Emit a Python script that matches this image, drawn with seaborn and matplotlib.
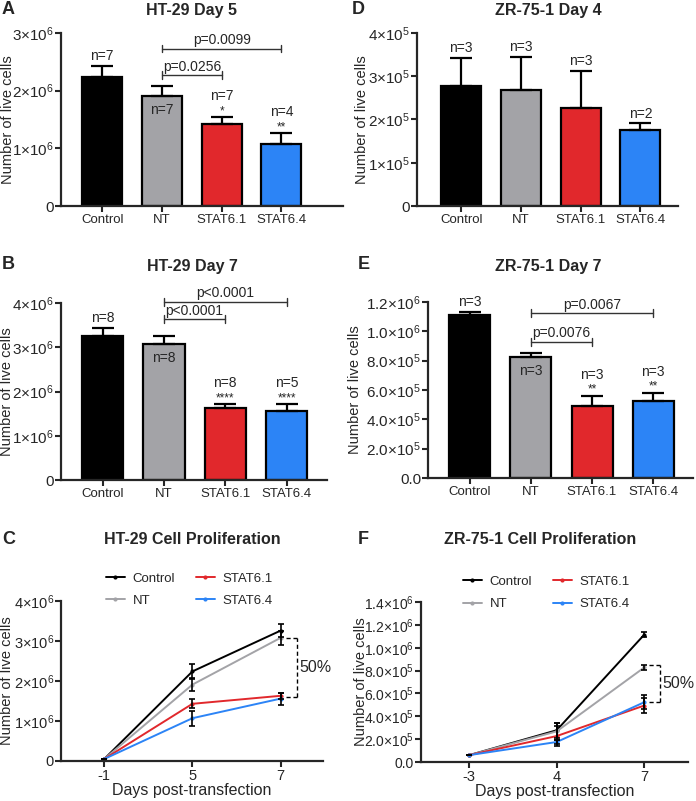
import numpy as np
import pandas as pd
import matplotlib
matplotlib.use("Agg")
import matplotlib.pyplot as plt
import matplotlib.transforms as mtransforms
import seaborn as sns

sns.set_style('ticks')
plt.rcParams['font.family'] = ['Liberation Sans', 'DejaVu Sans']
plt.rcParams['mathtext.fontset'] = 'custom'
plt.rcParams['mathtext.rm'] = 'Liberation Sans'
plt.rcParams['mathtext.it'] = 'Liberation Sans:italic'
plt.rcParams['mathtext.bf'] = 'Liberation Sans:bold'

groups = ["Control", "NT", "STAT6.1", "STAT6.4"]
colors = ["#000000", "#A3A3A7", "#E1282C", "#2C84F6"]

# HT-29 day 5
ht_d5_mean = [2.24e6, 1.91e6, 1.43e6, 1.07e6]
ht_d5_sem = [0.19e6, 0.17e6, 0.11e6, 0.19e6]
ht_d5_n = ["n=7", "n=7", "n=7", "n=4"]
ht_d5_stars = ["", "", "*", "**"]
ht_d5_p = [(1, 2, 2.27e6, "p=0.0256"), (1, 3, 2.73e6, "p=0.0099")]

# HT-29 day 7
ht_d7_mean = [3.26e6, 3.08e6, 1.63e6, 1.56e6]
ht_d7_sem = [0.17e6, 0.18e6, 0.08e6, 0.15e6]
ht_d7_n = ["n=8", "n=8", "n=8", "n=5"]
ht_d7_stars = ["", "", "****", "****"]
ht_d7_p = [(1, 2, 3.63e6, "p<0.0001"), (1, 3, 4.03e6, "p<0.0001")]

# ZR-75-1 day 4
zr_d4_mean = [2.78e5, 2.68e5, 2.27e5, 1.75e5]
zr_d4_sem = [0.64e5, 0.76e5, 0.86e5, 0.16e5]
zr_d4_n = ["n=3", "n=3", "n=3", "n=2"]

# ZR-75-1 day 7
zr_d7_mean = [1.114e6, 8.27e5, 4.94e5, 5.23e5]
zr_d7_sem = [0.021e6, 0.022e6, 0.068e6, 0.059e6]
zr_d7_n = ["n=3", "n=3", "n=3", "n=3"]
zr_d7_stars = ["", "", "**", "**"]
zr_d7_p = [(1, 2, 9.29e5, "p=0.0076"), (1, 3, 1.123e6, "p=0.0067")]

# proliferation curves (day of seeding, then the two counts above)
ht_days = ["-1", "5", "7"]
ht_start = 5e4
zr_days = ["-3", "4", "7"]
zr_start = 6e4


def sci(m, e):
    return r"$%s{\times}10^{%d}$" % (m, e)


ht_d5_yticks = [0, 1e6, 2e6, 3e6]
ht_d5_ylabels = ["0", sci("1", 6), sci("2", 6), sci("3", 6)]
ht_d7_yticks = [0, 1e6, 2e6, 3e6, 4e6]
ht_d7_ylabels = ["0", sci("1", 6), sci("2", 6), sci("3", 6), sci("4", 6)]
zr_d4_yticks = [0, 1e5, 2e5, 3e5, 4e5]
zr_d4_ylabels = ["0", sci("1", 5), sci("2", 5), sci("3", 5), sci("4", 5)]
zr_d7_yticks = [0, 2e5, 4e5, 6e5, 8e5, 1e6, 1.2e6]
zr_d7_ylabels = ["0.0", sci("2.0", 5), sci("4.0", 5), sci("6.0", 5),
                 sci("8.0", 5), sci("1.0", 6), sci("1.2", 6)]
zr_cur_yticks = [0, 2e5, 4e5, 6e5, 8e5, 1e6, 1.2e6, 1.4e6]
zr_cur_ylabels = zr_d7_ylabels + [sci("1.4", 6)]

W, H = 696, 801
fig = plt.figure(figsize=(W / 100, H / 100), dpi=100)


def px_axes(l, t, r, b):
    return fig.add_axes([l / W, 1 - b / H, (r - l) / W, (b - t) / H])


def fig_text(x, y, s, **kw):
    fig.text(x / W, 1 - y / H, s, **kw)


def style_axes(ax, ylab_x, ysize):
    for side in ['top', 'right']:
        ax.spines[side].set_visible(False)
    for side in ['left', 'bottom']:
        ax.spines[side].set_linewidth(1.6)
    ax.tick_params(direction='out', length=4, width=1.5, labelsize=9.5, pad=2)
    ax.tick_params(axis='y', labelsize=ysize, pad=1)
    ax.set_ylabel("Number of live cells", fontsize=10.5)
    tr = mtransforms.blended_transform_factory(fig.transFigure, ax.transAxes)
    ax.yaxis.set_label_coords(ylab_x / W, 0.5, transform=tr)


def bar_panel(ax, means, sems, nlab, stars, pvals, yticks, ylabels, xlim, ylab_x, ysize):
    sns.barplot(x=groups, y=means, hue=groups, palette=colors, legend=False,
                saturation=1, width=0.67, edgecolor='black', linewidth=1.6, ax=ax)
    x = np.arange(len(groups))
    ax.errorbar(x, means, yerr=[np.zeros(len(means)), sems], fmt='none',
                ecolor='black', elinewidth=1.6, capsize=8, capthick=1.6, zorder=1)
    ax.set_xlim(*xlim)
    ax.set_ylim(yticks[0], yticks[-1])
    ax.set_yticks(yticks)
    ax.set_yticklabels(ylabels)
    style_axes(ax, ylab_x, ysize)
    for i in range(len(groups)):
        top = means[i] + sems[i]
        if i == 1 and stars is not None:
            ax.annotate(nlab[i], (x[i], means[i]), xytext=(0, -5),
                        textcoords='offset points', ha='center', va='top', fontsize=10)
            continue
        off = 2
        if stars is not None and stars[i]:
            ax.annotate(stars[i], (x[i], top), xytext=(0, 0),
                        textcoords='offset points', ha='center', va='bottom', fontsize=8.5)
            off = 10
        ax.annotate(nlab[i], (x[i], top), xytext=(0, off),
                    textcoords='offset points', ha='center', va='bottom', fontsize=10)
    span = yticks[-1] - yticks[0]
    for a, b, h, lab in pvals:
        d = span * 0.022
        kw = dict(color='#333333', lw=1.0, clip_on=False)
        ax.plot([a, b], [h, h], **kw)
        ax.plot([a, a], [h - d, h + d], **kw)
        ax.plot([b, b], [h - d, h + d], **kw)
        ax.annotate(lab, ((a + b) / 2, h), xytext=(0, 1), textcoords='offset points',
                    ha='center', va='bottom', fontsize=10, annotation_clip=False)


def curve_panel(ax, days, start, means_a, sems_a, means_b, sems_b, yticks, ylabels,
                xlim, ylab_x, ysize, gap_top, gap_bot, leg_anchor):
    pos = np.arange(len(days))
    rows = []
    for g in range(len(groups)):
        vals = [start, means_a[g], means_b[g]]
        for p, v in zip(pos, vals):
            rows.append({'pos': p, 'cells': v, 'group': groups[g]})
    df = pd.DataFrame(rows)
    sns.lineplot(data=df, x='pos', y='cells', hue='group', hue_order=groups,
                 palette=colors, marker='o', markersize=3, markeredgewidth=0,
                 linewidth=1.4, ax=ax)
    for g in range(len(groups)):
        vals = [start, means_a[g], means_b[g]]
        errs = [0, sems_a[g], sems_b[g]]
        ax.errorbar(pos, vals, yerr=errs, fmt='none', ecolor='black',
                    elinewidth=1.2, capsize=2.5, capthick=1.2, zorder=3)
    ax.set_xticks(pos)
    ax.set_xticklabels(days)
    ax.set_xlim(*xlim)
    ax.set_ylim(yticks[0], yticks[-1])
    ax.set_yticks(yticks)
    ax.set_yticklabels(ylabels)
    style_axes(ax, ylab_x, ysize)
    ax.tick_params(axis='x', labelsize=10.5)
    ax.set_xlabel("Days post-transfection", fontsize=11.5, labelpad=0)
    # 50% reduction bracket
    kw = dict(color='black', lw=1.0, ls=(0, (3, 2)), clip_on=False)
    xe = pos[-1]
    ax.plot([xe + 0.06, xe + 0.18], [gap_top, gap_top], **kw)
    ax.plot([xe + 0.06, xe + 0.18], [gap_bot, gap_bot], **kw)
    ax.plot([xe + 0.18, xe + 0.18], [gap_bot, gap_top], **kw)
    ax.text(xe + 0.21, (gap_top + gap_bot) / 2, "50%", fontsize=11.5,
            va='center', ha='left', clip_on=False)
    sns.move_legend(ax, 'center', bbox_to_anchor=leg_anchor, ncol=2, frameon=False,
                    title=None, fontsize=9.5, handlelength=1.4, handletextpad=0.6,
                    columnspacing=1.6, labelspacing=0.75)


axA = px_axes(61, 33, 343, 206)
bar_panel(axA, ht_d5_mean, ht_d5_sem, ht_d5_n, ht_d5_stars, ht_d5_p,
          ht_d5_yticks, ht_d5_ylabels, (-0.69, 4.03), 15, 11)

axD = px_axes(417, 33, 678, 206)
bar_panel(axD, zr_d4_mean, zr_d4_sem, zr_d4_n, None, [],
          zr_d4_yticks, zr_d4_ylabels, (-0.74, 3.63), 369, 11)

axB = px_axes(61, 303, 327, 480)
bar_panel(axB, ht_d7_mean, ht_d7_sem, ht_d7_n, ht_d7_stars, ht_d7_p,
          ht_d7_yticks, ht_d7_ylabels, (-0.68, 3.66), 14, 11)

axE = px_axes(428, 302, 693, 478)
bar_panel(axE, zr_d7_mean, zr_d7_sem, zr_d7_n, zr_d7_stars, zr_d7_p,
          zr_d7_yticks, zr_d7_ylabels, (-0.68, 3.65), 362, 11)

axC = px_axes(61, 601, 323, 761)
curve_panel(axC, ht_days, ht_start, ht_d5_mean, ht_d5_sem, ht_d7_mean, ht_d7_sem,
            ht_d7_yticks, ht_d7_ylabels, (-0.49, 2.48), 14, 10.5,
            3.08e6, 1.6e6, (0.49, 1.07))

axF = px_axes(421, 602, 688, 762)
curve_panel(axF, zr_days, zr_start, zr_d4_mean, zr_d4_sem, zr_d7_mean, zr_d7_sem,
            zr_cur_yticks, zr_cur_ylabels, (-0.55, 2.5), 368, 10,
            8.48e5, 5.22e5, (0.47, 1.056))

# titles and panel letters
titles = [(192, 10, "HT-29 Day 5"), (548, 10, "ZR-75-1 Day 4"),
          (192, 267, "HT-29 Day 7"), (548, 267, "ZR-75-1 Day 7"),
          (192, 540, "HT-29 Cell Proliferation"), (540, 540, "ZR-75-1 Cell Proliferation")]
for x, y, s in titles:
    fig_text(x, y, s, fontsize=11.5, fontweight='bold', ha='center', va='center')

letters = [(2, 10, "A"), (352, 10, "D"), (2, 265, "B"), (358, 265, "E"),
           (2, 540, "C"), (358, 540, "F")]
for x, y, s in letters:
    fig_text(x, y, s, fontsize=13, fontweight='bold', ha='left', va='center')

fig.savefig("out.png", dpi=100)
